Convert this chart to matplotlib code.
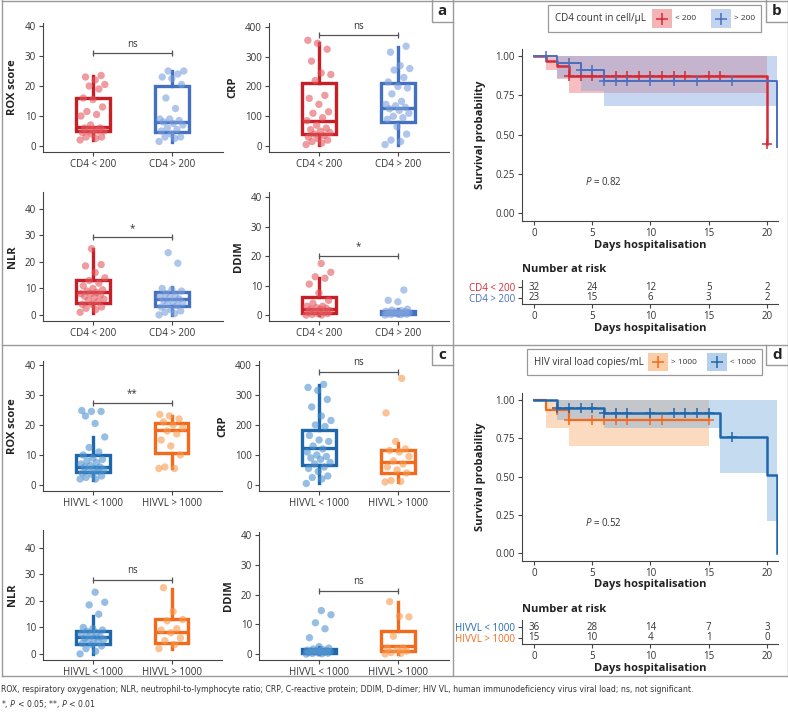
import numpy as np
import matplotlib
matplotlib.use('Agg')
import matplotlib.pyplot as plt
from matplotlib.lines import Line2D
from matplotlib.patches import Rectangle

plt.rcParams['font.family'] = ['Open Sans', 'DejaVu Sans']
plt.rcParams['mathtext.fontset'] = 'custom'
plt.rcParams['mathtext.it'] = 'Open Sans:italic'
plt.rcParams['mathtext.rm'] = 'Open Sans'

# ---- box plot data (points + box stats: whislo, q1, med, q3, whishi) ----
cd4_groups = ['CD4 < 200', 'CD4 > 200']
vl_groups = ['HIVVL < 1000', 'HIVVL > 1000']

rox_cd4_lo = [2, 2.5, 3, 3, 4, 4.5, 5, 5, 5, 5.5, 6, 6, 7, 10, 10.5, 11.5, 13, 15.5, 16, 19, 20, 20.5, 22, 23, 23.5]
rox_cd4_hi = [1.5, 2.5, 3, 3, 4, 5, 5.5, 6, 7, 7.5, 8, 8.5, 9, 9, 12.5, 16, 20.5, 22.5, 23, 24, 25, 25]
rox_cd4_box = [[2, 5, 6.5, 16, 23.5], [1.5, 4.8, 8, 20, 25]]

crp_cd4_lo = [5, 10, 15, 20, 25, 30, 35, 40, 45, 50, 55, 60, 70, 85, 95, 110, 115, 140, 160, 170, 220, 240, 245, 285, 325, 345, 355]
crp_cd4_hi = [5, 15, 20, 40, 65, 90, 95, 100, 110, 120, 125, 130, 135, 140, 150, 175, 195, 200, 215, 230, 255, 260, 270, 315, 335]
crp_cd4_box = [[5, 40, 85, 210, 345], [5, 80, 128, 210, 333]]

nlr_cd4_lo = [1, 2, 2.5, 3, 4, 4, 5, 5.5, 6, 6.5, 7, 7.5, 8, 8, 8.5, 9, 9.5, 10, 11, 12, 13, 14, 16, 18.5, 19, 25]
nlr_cd4_hi = [0, 0.5, 1, 1.5, 2, 3, 3.5, 4, 4.5, 5, 5.5, 6, 6.5, 7, 7.5, 8, 9, 9.5, 10, 19.5, 23.5]
nlr_cd4_box = [[0.8, 4.5, 8.5, 13.3, 25], [0, 3.5, 6, 8.5, 10.5]]

ddim_cd4_lo = [0, 0, 0.2, 0.5, 0.5, 1, 1, 1.2, 1.5, 2, 2, 2.3, 2.5, 3, 3, 4, 5, 7.5, 10.5, 12.5, 13, 14.5, 17.5]
ddim_cd4_hi = [0, 0.1, 0.2, 0.3, 0.4, 0.5, 0.6, 0.7, 0.8, 0.9, 1.0, 1.1, 1.2, 1.3, 1.5, 1.7, 2, 4.5, 5, 8.5]
ddim_cd4_box = [[0, 0.8, 2, 6, 12.5], [0, 0.3, 0.8, 1.3, 2.2]]

rox_vl_lo = [2, 2, 2.5, 3, 3.5, 4, 4.5, 5, 5, 5.5, 6, 6, 6.5, 7, 7.5, 8, 8.5, 9, 10, 11, 12.5, 16, 20.5, 23, 24.5, 24.5, 24.8]
rox_vl_hi = [5.5, 5.5, 6, 10, 13, 15, 17, 18, 19, 20, 21, 22, 23, 23.5]
rox_vl_box = [[1.7, 4.4, 6, 10, 15.9], [5.5, 10.8, 18.3, 20.6, 23]]

crp_vl_lo = [5, 20, 25, 30, 45, 55, 60, 70, 75, 85, 90, 95, 100, 110, 120, 130, 145, 150, 165, 195, 200, 215, 230, 260, 285, 315, 325, 335]
crp_vl_hi = [10, 12, 15, 40, 50, 60, 70, 80, 95, 110, 115, 120, 145, 240, 355]
crp_vl_box = [[5, 66, 122, 183, 333], [11, 39, 78, 117, 139]]

nlr_vl_lo = [0, 1, 2, 3, 3.5, 4, 4.5, 5, 5.5, 6, 6, 6.5, 7, 7.5, 8, 8.5, 9, 9.5, 10, 15, 18.5, 19.5, 23.3]
nlr_vl_hi = [2, 3.5, 5, 6, 8, 9, 9.5, 12.5, 13, 16, 25]
nlr_vl_box = [[0, 3.6, 6.3, 8.8, 14.3], [2, 4.3, 8.4, 13.2, 24.7]]

ddim_vl_lo = [0, 0.1, 0.2, 0.3, 0.4, 0.5, 0.6, 0.7, 0.8, 0.9, 1.0, 1.1, 1.2, 1.3, 1.5, 1.7, 2, 2.5, 5.5, 8.5, 10.5, 13.2, 14.6]
ddim_vl_hi = [0, 0.2, 0.5, 1, 1.5, 2, 2, 6, 12.5, 12.7, 17.6]
ddim_vl_box = [[0, 0.3, 1, 1.7, 2.5], [0, 0.9, 2.6, 7.6, 17.6]]

# significance brackets (height, label)
sig_a = {'rox': (31, 'ns'), 'crp': (372, 'ns'), 'nlr': (29.3, '*'), 'ddim': (20, '*')}
sig_c = {'rox': (27.4, '**'), 'crp': (378, 'ns'), 'nlr': (28, 'ns'), 'ddim': (21.3, 'ns')}

# ---- Kaplan-Meier data ----
km_b_red = dict(t=[0, 1, 2, 3, 20], s=[1.0, 0.969, 0.938, 0.875, 0.44],
                lo=[1.0, 0.91, 0.857, 0.767, 0.767], hi=[1, 1, 1, 1, 1], end=20,
                cens=[3, 4, 5, 6, 7, 8, 9, 10, 11, 12, 13, 15, 16, 20])
km_b_blue = dict(t=[0, 2, 4, 6, 20.85], s=[1.0, 0.957, 0.913, 0.84, 0.42],
                 lo=[1.0, 0.863, 0.778, 0.68, 0.68], hi=[1, 1, 1, 1, 1], end=20.85,
                 cens=[1, 3, 4, 5, 6, 7, 8, 10, 12, 14, 17])
km_d_orange = dict(t=[0, 1, 3, 15], s=[1.0, 0.935, 0.868, 0.868],
                   lo=[1.0, 0.815, 0.70, 0.70], hi=[1, 1, 1, 1], end=15,
                   cens=[2, 3, 5, 6, 7, 8, 10, 11, 15])
km_d_blue = dict(t=[0, 2, 6, 16, 20, 20.9], s=[1.0, 0.946, 0.913, 0.76, 0.507, 0.0],
                 lo=[1.0, 0.87, 0.815, 0.52, 0.21, 0.21], hi=[1, 1, 1, 1, 1, 1], end=20.9,
                 cens=[2, 3, 4, 5, 6, 7, 8, 10, 12, 13, 14, 15, 17])

risk_times = [0, 5, 10, 15, 20]
risk_b = [[32, 24, 12, 5, 2], [23, 15, 6, 3, 2]]
risk_d = [[36, 28, 14, 7, 3], [15, 10, 4, 1, 0]]

W, H = 788, 717
fig = plt.figure(figsize=(7.88, 7.17), dpi=100)
TXT = '#333333'
FRAME = '#9a9a9a'


def px_axes(x0, y0, x1, y1):
    return fig.add_axes([x0 / W, 1 - y1 / H, (x1 - x0) / W, (y1 - y0) / H])


def fig_line(xs, ys, **kw):
    fig.add_artist(Line2D([x / W for x in xs], [1 - y / H for y in ys],
                          transform=fig.transFigure, **kw))


def style_axes(ax):
    for sp in ['top', 'right']:
        ax.spines[sp].set_visible(False)
    for sp in ['left', 'bottom']:
        ax.spines[sp].set_color('#444444')
        ax.spines[sp].set_linewidth(0.8)
    ax.tick_params(labelsize=7, colors='#444444', labelcolor=TXT, length=3, width=0.8, pad=2)


def box_panel(rect, ylabel, ylim, yticks, xlim, groups, pts, stats, colors, pcolors, sig):
    ax = px_axes(*rect)
    for i in range(2):
        st = dict(whislo=stats[i][0], q1=stats[i][1], med=stats[i][2], q3=stats[i][3], whishi=stats[i][4])
        ax.bxp([st], positions=[i], widths=0.43, showcaps=False, showfliers=False, patch_artist=True,
               boxprops=dict(facecolor='white', edgecolor=colors[i], linewidth=2.4),
               whiskerprops=dict(color=colors[i], linewidth=2.4),
               medianprops=dict(color=colors[i], linewidth=2.4))
        n = len(pts[i])
        jit = ((np.arange(n) * 0.618034) % 1.0 - 0.5) * 0.32
        ax.scatter(i + jit, pts[i], s=28, color=pcolors[i], alpha=0.6, edgecolors='none', zorder=3)
    h, lab = sig
    ax.plot([0, 1], [h, h], color='#555555', lw=0.9, marker='|', ms=5, mew=0.9)
    ax.annotate(lab, (0.5, h), xytext=(0, 2.5), textcoords='offset points',
                ha='center', va='bottom', fontsize=7, color=TXT)
    ax.set_xlim(*xlim)
    ax.set_ylim(*ylim)
    ax.set_yticks(yticks)
    ax.set_xticks([0, 1])
    ax.set_xticklabels(groups)
    ax.set_ylabel(ylabel, fontsize=8, fontweight='bold', color='#222222', labelpad=5)
    style_axes(ax)
    return ax


def km_panel(rect, curves, fills, colors, lws, p_text):
    ax = px_axes(*rect)
    for c, fc, col, lw in zip(curves, fills, colors, lws):
        t = list(c['t']) + [c['end']]
        ax.fill_between(t, list(c['lo']) + [c['lo'][-1]], list(c['hi']) + [c['hi'][-1]],
                        step='post', color=fc, alpha=0.45, lw=0)
    for c, fc, col, lw in zip(curves, fills, colors, lws):
        t = list(c['t']) + [c['end']]
        ax.step(t, list(c['s']) + [c['s'][-1]], where='post', color=col, lw=lw)
        idx = np.searchsorted(c['t'], c['cens'], side='right') - 1
        ax.plot(c['cens'], np.array(c['s'])[idx], ls='none', marker='+', ms=7, mew=1.1, color=col)
    ax.set_xlim(-1.03, 20.95)
    ax.set_ylim(-0.051, 1.045)
    ax.set_xticks(risk_times)
    ax.set_yticks([0, 0.25, 0.5, 0.75, 1.0])
    ax.set_yticklabels(['0.00', '0.25', '0.50', '0.75', '1.00'])
    ax.text(0.245, 0.21, p_text, transform=ax.transAxes, fontsize=7, color=TXT)
    style_axes(ax)
    return ax


def risk_panel(rect, labels, counts, colors):
    ax = px_axes(*rect)
    for row, cnt in enumerate(counts):
        for t, n in zip(risk_times, cnt):
            ax.text(t, 1 - row, str(n), ha='center', va='center', fontsize=7, color=TXT)
    ax.set_xlim(-1.03, 20.95)
    ax.set_ylim(-0.55, 1.64)
    ax.set_xticks(risk_times)
    ax.set_yticks([1, 0])
    ax.set_yticklabels(labels)
    style_axes(ax)
    for lab, col in zip(ax.get_yticklabels(), colors):
        lab.set_color(col)
    return ax


def km_legend(x0, y0, x1, y1, title, items):
    fig.add_artist(Rectangle((x0 / W, 1 - y1 / H), (x1 - x0) / W, (y1 - y0) / H,
                             transform=fig.transFigure, fill=False, ec=FRAME, lw=0.9))
    yc = 1 - (y0 + y1) / 2 / H
    fig.text((x0 + 7) / W, yc, title, va='center', ha='left', fontsize=7, color=TXT)
    for px, pc, lc, lab in items:
        fig.add_artist(Rectangle((px / W, 1 - (y1 - 4) / H), 20 / W, (y1 - y0 - 8) / H,
                                 transform=fig.transFigure, fc=pc, ec='none'))
        fig.add_artist(Line2D([(px + 10) / W], [yc], marker='+', ms=8, mew=1.1, color=lc,
                              transform=fig.transFigure))
        fig.text((px + 23) / W, yc, lab, va='center', ha='left', fontsize=6, color=TXT)


# colours
a_box = ['#c81e25', '#4470c2']
a_pts = ['#e35a5f', '#7b9fdc']
c_box = ['#1f67ad', '#f26a1b']
c_pts = ['#4f94d0', '#f79a4e']

# ---- panel a ----
box_panel((43, 23, 223, 152), 'ROX score', (-2, 41), [0, 10, 20, 30, 40], (-0.63, 1.65),
          cd4_groups, [rox_cd4_lo, rox_cd4_hi], rox_cd4_box, a_box, a_pts, sig_a['rox'])
box_panel((269, 23, 449, 152), 'CRP', (-20, 413), [0, 100, 200, 300, 400], (-0.63, 1.65),
          cd4_groups, [crp_cd4_lo, crp_cd4_hi], crp_cd4_box, a_box, a_pts, sig_a['crp'])
box_panel((43, 192, 223, 321), 'NLR', (-2.3, 46.4), [0, 10, 20, 30, 40], (-0.63, 1.65),
          cd4_groups, [nlr_cd4_lo, nlr_cd4_hi], nlr_cd4_box, a_box, a_pts, sig_a['nlr'])
box_panel((269, 192, 449, 321), 'DDIM', (-2, 41.7), [0, 10, 20, 30, 40], (-0.63, 1.65),
          cd4_groups, [ddim_cd4_lo, ddim_cd4_hi], ddim_cd4_box, a_box, a_pts, sig_a['ddim'])

# ---- panel c ----
box_panel((43, 361, 222, 491), 'ROX score', (-2, 41.3), [0, 10, 20, 30, 40], (-0.63, 1.64),
          vl_groups, [rox_vl_lo, rox_vl_hi], rox_vl_box, c_box, c_pts, sig_c['rox'])
box_panel((259, 361, 449, 491), 'CRP', (-20, 413), [0, 100, 200, 300, 400], (-0.76, 1.65),
          vl_groups, [crp_vl_lo, crp_vl_hi], crp_vl_box, c_box, c_pts, sig_c['crp'])
box_panel((43, 530, 222, 660), 'NLR', (-2.3, 46.8), [0, 10, 20, 30, 40], (-0.63, 1.64),
          vl_groups, [nlr_vl_lo, nlr_vl_hi], nlr_vl_box, c_box, c_pts, sig_c['nlr'])
box_panel((259, 532, 449, 660), 'DDIM', (-2, 41.0), [0, 10, 20, 30, 40], (-0.76, 1.65),
          vl_groups, [ddim_vl_lo, ddim_vl_hi], ddim_vl_box, c_box, c_pts, sig_c['ddim'])

# ---- panel b ----
km_panel((522, 49, 778, 221), [km_b_red, km_b_blue], ['#ee6f76', '#86a8e0'],
         ['#d42a35', '#4a6fbe'], [1.8, 1.4], r'$\it{P}$ = 0.82')
risk_panel((522, 280, 778, 304), cd4_groups, risk_b, ['#d42a35', '#4a6fbe'])
km_legend(548, 5, 761, 32, 'CD4 count in cell/µL',
          [(652, '#f4b4b6', '#d42a35', '< 200'), (711, '#c2d3ef', '#4a6fbe', '> 200')])

# ---- panel d ----
km_panel((522, 393, 778, 561), [km_d_orange, km_d_blue], ['#f9ad72', '#7fb0de'],
         ['#f26a1b', '#1f67ad'], [1.6, 1.8], r'$\it{P}$ = 0.52')
risk_panel((522, 620, 778, 644), vl_groups, risk_d, ['#1f67ad', '#f26a1b'])
km_legend(527, 349, 762, 375, 'HIV viral load copies/mL',
          [(648, '#fbcda6', '#f26a1b', '> 1000'), (707, '#b5d0ec', '#1f67ad', '< 1000')])

# KM labels
for yc, yl, yn, yr in [(135, 245, 270, 328), (477, 585, 609, 668)]:
    fig.text(480 / W, 1 - yc / H, 'Survival probability', rotation=90, ha='center', va='center',
             fontsize=8, fontweight='bold', color='#222222')
    fig.text(650 / W, 1 - yl / H, 'Days hospitalisation', ha='center', va='center',
             fontsize=8, fontweight='bold', color='#222222')
    fig.text(522 / W, 1 - yn / H, 'Number at risk', ha='left', va='center',
             fontsize=8, fontweight='bold', color='#222222')
    fig.text(650 / W, 1 - yr / H, 'Days hospitalisation', ha='center', va='center',
             fontsize=8, fontweight='bold', color='#222222')

# ---- frames and panel letters ----
fkw = dict(color=FRAME, lw=1)
fig_line([2, 787.5], [0.5, 0.5], **fkw)
fig_line([2, 787.5], [676, 676], **fkw)
fig_line([2, 2], [0, 676], **fkw)
fig_line([787.5, 787.5], [0, 676], **fkw)
fig_line([453, 453], [0, 676], **fkw)
fig_line([2, 787.5], [345, 345], **fkw)
for x0, x1, y0, y1, lab in [(432, 453, 0, 22, 'a'), (766, 788, 0, 22, 'b'),
                            (432, 453, 345, 365, 'c'), (766, 788, 345, 365, 'd')]:
    fig_line([x0, x0, x1], [y0, y1, y1], **fkw)
    fig.text((x0 + x1) / 2 / W, 1 - (y0 + y1) / 2 / H, lab, ha='center', va='center',
             fontsize=11, fontweight='bold', color='#222222')

# caption (narrow text)
cap_kw = dict(ha='left', va='center', fontsize=6.2, color=TXT, family='DejaVu Sans',
              fontstretch='condensed')
fig.text(1 / W, 1 - 689 / H,
         'ROX, respiratory oxygenation; NLR, neutrophil-to-lymphocyte ratio; CRP, C-reactive protein; '
         'DDIM, D-dimer; HIV VL, human immunodeficiency virus viral load; ns, not significant.', **cap_kw)
fig.text(1 / W, 1 - 704 / H, '*, $\\it{P}$ < 0.05; **, $\\it{P}$ < 0.01', **cap_kw)

fig.savefig('out.png', dpi=100)
